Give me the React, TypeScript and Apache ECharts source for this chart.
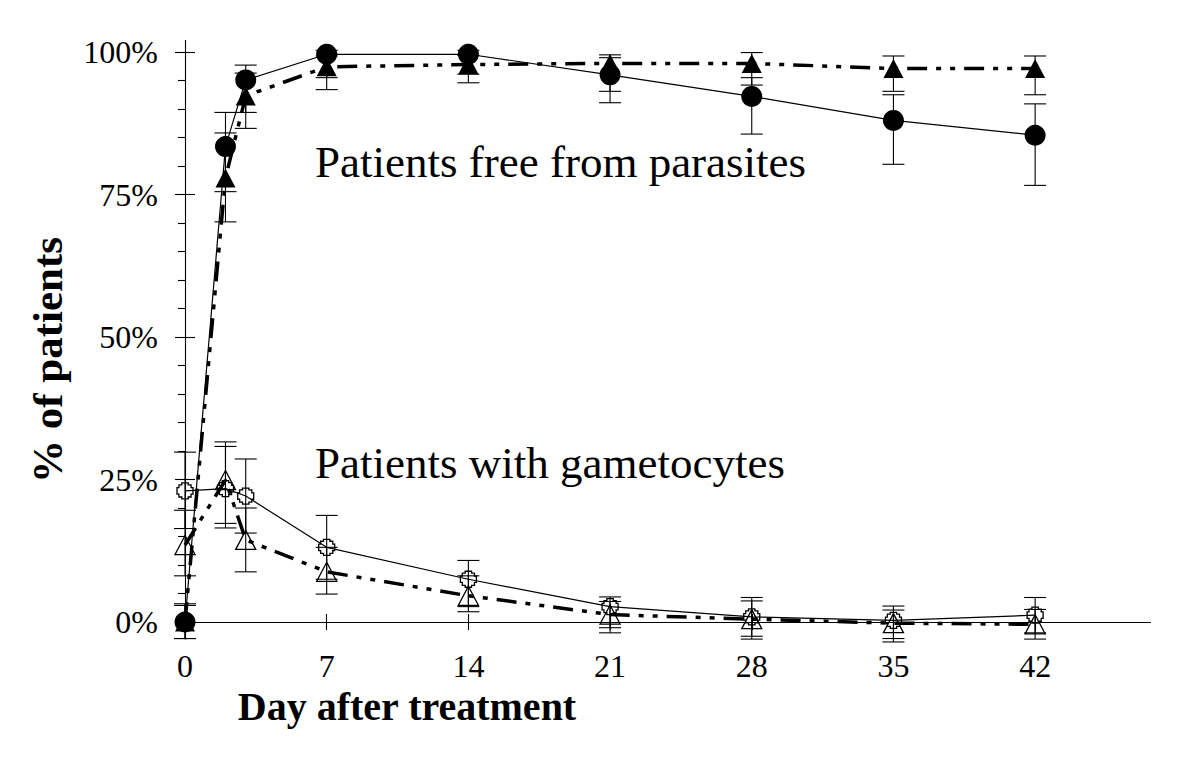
import React, { useEffect, useRef } from "react";
import * as echarts from "echarts";

const days = [0, 2, 3, 7, 14, 21, 28, 35, 42];

// Patients free from parasites
const freeCircle = [0, 83.4, 95.1, 99.6, 99.6, 96.0, 92.2, 88.0, 85.4];
const freeCircleLow = [-2.9, 75.5, 89.4, 95.5, 96.1, 91.1, 85.6, 80.3, 76.6];
const freeCircleHigh = [3.2, 89.4, 97.7, 100.3, 100.3, 99.0, 95.5, 92.5, 90.9];

const freeTriangle = [0, 77.9, 92.3, 97.4, 97.8, 98.0, 98.0, 97.1, 97.1];
const freeTriangleLow = [-2.9, 70.2, 86.6, 93.4, 94.6, 93.1, 94.2, 93.1, 92.5];
const freeTriangleHigh = [2.9, 85.8, 96.3, 99.3, 99.4, 99.5, 99.9, 99.3, 99.3];

// Patients with gametocytes
const gamSquare = [23.0, 23.4, 22.1, 13.1, 7.5, 2.7, 0.9, 0.3, 1.2];
const gamSquareLow = [16.4, 16.5, 15.6, 7.5, 2.7, -1.0, -2.5, -2.9, -1.9];
const gamSquareHigh = [29.8, 30.8, 28.6, 18.7, 10.8, 4.4, 4.3, 2.8, 4.3];

const gamTriangle = [13.5, 24.9, 14.4, 8.8, 4.6, 1.3, 0.5, -0.2, -0.4];
const gamTriangleLow = [8.1, 17.3, 8.8, 4.9, 1.8, -1.9, -3.0, -3.5, -3.0];
const gamTriangleHigh = [19.6, 31.6, 20.0, 13.1, 8.1, 3.6, 3.7, 2.1, 2.2];

const xTicks = [0, 7, 14, 21, 28, 35, 42];
const yTicks = [0, 25, 50, 75, 100];
const yMinorTicks = [5, 10, 15, 20, 30, 35, 40, 45, 55, 60, 65, 70, 80, 85, 90, 95];

const FONT = "'Liberation Serif', 'Times New Roman', serif";
const crossSymbol =
  "path://M3,0 H7 V1.2 H8.8 V3 H10 V7 H8.8 V8.8 H7 V10 H3 V8.8 H1.2 V7 H0 V3 H1.2 V1.2 H3 Z";

function pts(vals: number[]) {
  return days.map((d, i) => [d, vals[i]]);
}
function errs(lo: number[], hi: number[]) {
  return days.map((d, i) => [d, lo[i], hi[i]]);
}

const errorRender = (params: any, api: any) => {
  const x = api.value(0);
  const p1 = api.coord([x, api.value(1)]);
  const p2 = api.coord([x, api.value(2)]);
  const h = 11;
  const st = { stroke: "#000", lineWidth: 1.1 };
  return {
    type: "group",
    children: [
      { type: "line", shape: { x1: p1[0], y1: p1[1], x2: p2[0], y2: p2[1] }, style: st },
      { type: "line", shape: { x1: p1[0] - h, y1: p1[1], x2: p1[0] + h, y2: p1[1] }, style: st },
      { type: "line", shape: { x1: p2[0] - h, y1: p2[1], x2: p2[0] + h, y2: p2[1] }, style: st },
    ],
  };
};

export default function App() {
  const ref = useRef<HTMLDivElement>(null);
  useEffect(() => {
    if (!ref.current) return;
    const chart = echarts.init(ref.current, null, { renderer: "svg" });
    const axisLine = { show: true, onZero: true, lineStyle: { color: "#000", width: 1.1 } };
    const hiddenLabel = { show: false };
    const yBase = {
      type: "value",
      min: -3,
      max: 102,
      position: "left",
      splitLine: { show: false },
    };
    const xBase = {
      type: "value",
      min: 0,
      max: 47.7,
      position: "bottom",
      splitLine: { show: false },
    };
    const option: any = {
      animation: false,
      backgroundColor: "#fff",
      grid: { left: 185, top: 40.6, width: 965.5, height: 598.5, containLabel: false },
      xAxis: [
        {
          ...xBase,
          axisLine,
          axisTick: { show: true, customValues: xTicks, length: 8, inside: false, lineStyle: { color: "#000", width: 1.1 } },
          axisLabel: {
            show: true,
            customValues: xTicks,
            margin: 11,
            color: "#000",
            fontFamily: FONT,
            fontSize: 32,
          },
        },
        {
          ...xBase,
          axisLine: { ...axisLine, show: false },
          axisTick: { show: true, customValues: xTicks, length: 8, inside: true, lineStyle: { color: "#000", width: 1.1 } },
          axisLabel: hiddenLabel,
        },
      ],
      yAxis: [
        {
          ...yBase,
          axisLine,
          axisTick: { show: true, customValues: yTicks, length: 10, inside: false, lineStyle: { color: "#000", width: 1.1 } },
          axisLabel: {
            show: true,
            customValues: yTicks,
            formatter: "{value}%",
            margin: 27,
            color: "#000",
            fontFamily: FONT,
            fontSize: 32,
          },
        },
        {
          ...yBase,
          axisLine: { ...axisLine, show: false },
          axisTick: { show: true, customValues: yTicks, length: 10, inside: true, lineStyle: { color: "#000", width: 1.1 } },
          axisLabel: hiddenLabel,
        },
        {
          ...yBase,
          axisLine: { ...axisLine, show: false },
          axisTick: { show: true, customValues: yMinorTicks, length: 7, inside: false, lineStyle: { color: "#000", width: 1.1 } },
          axisLabel: hiddenLabel,
        },
      ],
      graphic: [
        {
          type: "text",
          x: 315,
          y: 162,
          style: { text: "Patients free from parasites", font: `45px ${FONT}`, fill: "#000", verticalAlign: "middle" },
        },
        {
          type: "text",
          x: 315,
          y: 463,
          style: { text: "Patients with gametocytes", font: `45px ${FONT}`, fill: "#000", verticalAlign: "middle" },
        },
        {
          type: "text",
          x: 407,
          y: 706,
          style: { text: "Day after treatment", font: `bold 40px ${FONT}`, fill: "#000", align: "center", verticalAlign: "middle" },
        },
        {
          type: "text",
          x: 47,
          y: 360,
          rotation: Math.PI / 2,
          style: { text: "% of patients", font: `bold 43px ${FONT}`, fill: "#000", align: "center", verticalAlign: "middle" },
        },
      ],
      series: [
        { type: "custom", renderItem: errorRender, data: errs(freeTriangleLow, freeTriangleHigh), encode: { x: 0, y: [1, 2] }, z: 1, silent: true },
        { type: "custom", renderItem: errorRender, data: errs(freeCircleLow, freeCircleHigh), encode: { x: 0, y: [1, 2] }, z: 1, silent: true },
        { type: "custom", renderItem: errorRender, data: errs(gamSquareLow, gamSquareHigh), encode: { x: 0, y: [1, 2] }, z: 1, silent: true },
        { type: "custom", renderItem: errorRender, data: errs(gamTriangleLow, gamTriangleHigh), encode: { x: 0, y: [1, 2] }, z: 1, silent: true },
        {
          name: "free-triangle",
          type: "line",
          data: pts(freeTriangle),
          symbol: "triangle",
          symbolSize: [20, 19],
          itemStyle: { color: "#000" },
          lineStyle: { color: "#000", width: 3.5, type: [20, 9, 5, 9, 5, 9] },
          z: 3,
        },
        {
          name: "free-circle",
          type: "line",
          data: pts(freeCircle),
          symbol: "circle",
          symbolSize: 21,
          itemStyle: { color: "#000" },
          lineStyle: { color: "#000", width: 1.2 },
          z: 4,
        },
        {
          name: "gam-triangle",
          type: "line",
          data: pts(gamTriangle),
          symbol: "triangle",
          symbolSize: [20, 19],
          itemStyle: { color: "rgba(255,255,255,0)", borderColor: "#000", borderWidth: 1.3 },
          lineStyle: { color: "#000", width: 3.5, type: [20, 9, 5, 9, 5, 9] },
          z: 3,
        },
        {
          name: "gam-square",
          type: "line",
          data: pts(gamSquare),
          symbol: crossSymbol,
          symbolSize: 16,
          itemStyle: { color: "rgba(255,255,255,0)", borderColor: "#000", borderWidth: 1.3 },
          lineStyle: { color: "#000", width: 1.2 },
          z: 4,
        },
      ],
    };
    chart.setOption(option);
    return () => chart.dispose();
  }, []);
  return (
    <div
      ref={ref}
      style={{ position: "fixed", left: 0, top: 0, width: 1200, height: 763, background: "#fff" }}
    />
  );
}
